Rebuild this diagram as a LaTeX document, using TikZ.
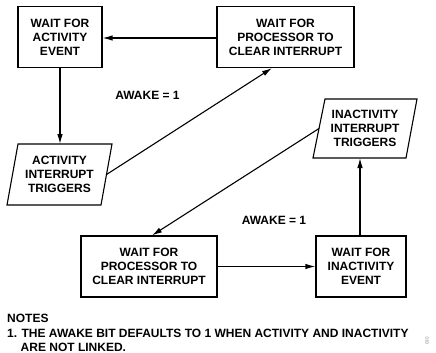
\documentclass[tikz,border=0pt]{standalone}
\usepackage{fontspec}
\setmainfont{Liberation Sans}
\usetikzlibrary{arrows.meta,calc}
\begin{document}
\begin{tikzpicture}[x=1pt,y=-1pt,
  lbl/.style={font=\bfseries\fontsize{12}{14}\selectfont,align=center,inner sep=0pt},
  box/.style={lbl,draw,line width=1.1pt,minimum height=61pt},
  trig/.style={lbl,minimum width=90pt,minimum height=61pt},
  shp/.style={draw,line width=1.1pt},
  conn/.style={line width=1.1pt,-{Latex[length=10pt,width=5.5pt]}},
  note/.style={font=\bfseries\fontsize{12}{14.5}\selectfont,anchor=west,inner sep=0pt}]
\useasboundingbox (0,0) rectangle (436,353);
% boxes
\node[box,minimum width=84pt] (a1) at (60,37) {WAIT FOR\\ACTIVITY\\EVENT};
\node[box,minimum width=137pt] (p1) at (285.5,37) {WAIT FOR\\PROCESSOR TO\\CLEAR INTERRUPT};
\node[box,minimum width=136pt] (p2) at (149,266.5) {WAIT FOR\\PROCESSOR TO\\CLEAR INTERRUPT};
\node[box,minimum width=90pt] (a2) at (361,266.5) {WAIT FOR\\INACTIVITY\\EVENT};
% parallelograms
\node[trig] (t1) at (59.5,174.5) {ACTIVITY\\INTERRUPT\\TRIGGERS};
\draw[shp] (18,144) -- (112,144) -- (101,205) -- (7,205) -- cycle;
\coordinate (t1t) at (60,144);
\coordinate (t1r) at (106.5,174.5);
\node[trig] (t2) at (365,128.5) {INACTIVITY\\INTERRUPT\\TRIGGERS};
\draw[shp] (325,99) -- (417,99) -- (406,158) -- (313,158) -- cycle;
\coordinate (t2l) at (319,128.5);
\coordinate (t2b) at (360,158);
% connectors
\draw[conn] (p1.west |- 0,38) -- (a1.east |- 0,38);
\draw[conn] (a1.south) -- (t1t);
\draw[conn] (t1r) -- ($(p1.south)+(-13.5,0)$);
\draw[conn] (t2l) -- ($(p2.north)+(3,0)$);
\draw[conn] (p2.east) -- (a2.west);
\draw[conn] (a2.north -| t2b) -- (t2b);
% labels
\node[lbl] (w1) at (147.5,95) {AWAKE = 1};
\node[lbl] (w2) at (274,220) {AWAKE = 1};
% notes
\node[note] (n0) at (7,318) {NOTES};
\node[note] (n1) at (7,333) {1. THE AWAKE BIT DEFAULTS TO 1 WHEN ACTIVITY AND INACTIVITY};
\node[note] (n2) at (20.5,347.5) {ARE NOT LINKED.};
\node[font=\fontsize{4.5}{4.5}\selectfont,text=gray,rotate=90,inner sep=0pt] (id) at (427,341) {030};
\end{tikzpicture}
\end{document}
